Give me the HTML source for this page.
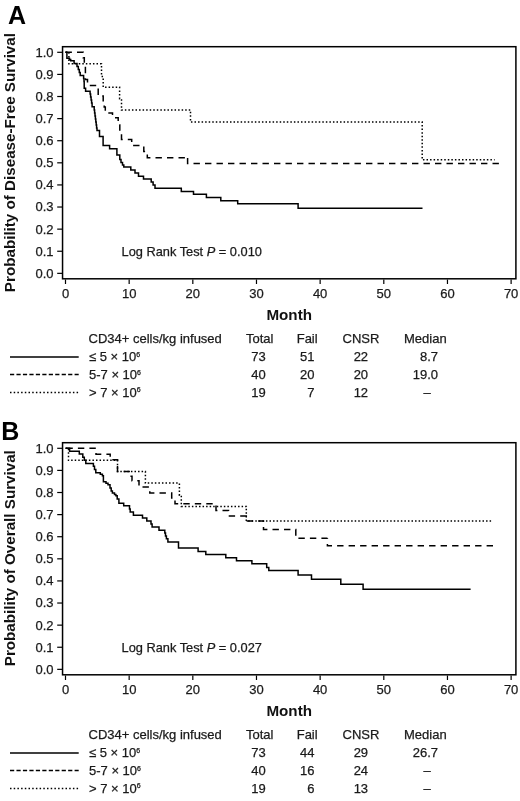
<!DOCTYPE html>
<html><head><meta charset="utf-8"><style>
html,body{margin:0;padding:0;background:#fff;width:520px;height:801px;overflow:hidden}
svg{display:block;will-change:transform}
text{font-family:"Liberation Sans",sans-serif;fill:#1a1a1a}
.t{font-size:13px;stroke:#1a1a1a;stroke-width:0.25px}
.b{font-size:15.2px;font-weight:bold;fill:#111}
.L{font-size:25px;font-weight:bold;fill:#000}
.sup{font-size:7px}
</style></head><body>
<svg width="520" height="801" viewBox="0 0 520 801">
<rect width="520" height="801" fill="#fff"/>
<rect x="62.55" y="46.7" width="453.35" height="232.1" fill="none" stroke="#000" stroke-width="1.5"/>
<line x1="57.2" y1="273.35" x2="62.5" y2="273.35" stroke="#000" stroke-width="1.2"/>
<text x="53.6" y="277.75" text-anchor="end" class="t">0.0</text>
<line x1="57.2" y1="251.25" x2="62.5" y2="251.25" stroke="#000" stroke-width="1.2"/>
<text x="53.6" y="255.65" text-anchor="end" class="t">0.1</text>
<line x1="57.2" y1="229.14" x2="62.5" y2="229.14" stroke="#000" stroke-width="1.2"/>
<text x="53.6" y="233.54" text-anchor="end" class="t">0.2</text>
<line x1="57.2" y1="207.03" x2="62.5" y2="207.03" stroke="#000" stroke-width="1.2"/>
<text x="53.6" y="211.43" text-anchor="end" class="t">0.3</text>
<line x1="57.2" y1="184.93" x2="62.5" y2="184.93" stroke="#000" stroke-width="1.2"/>
<text x="53.6" y="189.33" text-anchor="end" class="t">0.4</text>
<line x1="57.2" y1="162.82" x2="62.5" y2="162.82" stroke="#000" stroke-width="1.2"/>
<text x="53.6" y="167.22" text-anchor="end" class="t">0.5</text>
<line x1="57.2" y1="140.72" x2="62.5" y2="140.72" stroke="#000" stroke-width="1.2"/>
<text x="53.6" y="145.12" text-anchor="end" class="t">0.6</text>
<line x1="57.2" y1="118.62" x2="62.5" y2="118.62" stroke="#000" stroke-width="1.2"/>
<text x="53.6" y="123.02" text-anchor="end" class="t">0.7</text>
<line x1="57.2" y1="96.51" x2="62.5" y2="96.51" stroke="#000" stroke-width="1.2"/>
<text x="53.6" y="100.91" text-anchor="end" class="t">0.8</text>
<line x1="57.2" y1="74.41" x2="62.5" y2="74.41" stroke="#000" stroke-width="1.2"/>
<text x="53.6" y="78.81" text-anchor="end" class="t">0.9</text>
<line x1="57.2" y1="52.30" x2="62.5" y2="52.30" stroke="#000" stroke-width="1.2"/>
<text x="53.6" y="56.70" text-anchor="end" class="t">1.0</text>
<line x1="65.50" y1="279.5" x2="65.50" y2="284" stroke="#000" stroke-width="1.2"/>
<text x="65.50" y="297.6" text-anchor="middle" class="t">0</text>
<line x1="129.16" y1="279.5" x2="129.16" y2="284" stroke="#000" stroke-width="1.2"/>
<text x="129.16" y="297.6" text-anchor="middle" class="t">10</text>
<line x1="192.82" y1="279.5" x2="192.82" y2="284" stroke="#000" stroke-width="1.2"/>
<text x="192.82" y="297.6" text-anchor="middle" class="t">20</text>
<line x1="256.48" y1="279.5" x2="256.48" y2="284" stroke="#000" stroke-width="1.2"/>
<text x="256.48" y="297.6" text-anchor="middle" class="t">30</text>
<line x1="320.14" y1="279.5" x2="320.14" y2="284" stroke="#000" stroke-width="1.2"/>
<text x="320.14" y="297.6" text-anchor="middle" class="t">40</text>
<line x1="383.80" y1="279.5" x2="383.80" y2="284" stroke="#000" stroke-width="1.2"/>
<text x="383.80" y="297.6" text-anchor="middle" class="t">50</text>
<line x1="447.46" y1="279.5" x2="447.46" y2="284" stroke="#000" stroke-width="1.2"/>
<text x="447.46" y="297.6" text-anchor="middle" class="t">60</text>
<line x1="511.12" y1="279.5" x2="511.12" y2="284" stroke="#000" stroke-width="1.2"/>
<text x="511.12" y="297.6" text-anchor="middle" class="t">70</text>
<text x="289.2" y="319.7" text-anchor="middle" class="b">Month</text>
<text transform="translate(14.6,162.6) rotate(-90)" text-anchor="middle" class="b">Probability of Disease-Free Survival</text>
<text x="8" y="24.2" class="L">A</text>
<text x="121.6" y="256" class="t" style="font-size:12.8px">Log Rank Test <tspan font-style="italic">P</tspan> = 0.010</text>
<path d="M65.5,52.2 H66.9 V58.2 H69.5 V59.6 H70.7 V60.8 H74.1 V63.4 H77 V66.5 H78.3 V69.5 H79.3 V72.5 H80.2 V75.6 H83.6 V78.6 H84 V81.6 H84.2 V88.3 H85.6 V91.2 H90.1 V94 H90.6 V97 H91.1 V100 H91.6 V103 H92.1 V106.7 H94.2 V110 H94.6 V113 H95 V116 H95.4 V119 H95.8 V122 H96.2 V125 H96.6 V128 H97 V130.5 H99.5 V136.5 H103.1 V145.5 H109.6 V148.7 H116.9 V155 H119.8 V159.6 H121 V162.5 H122.5 V165 H123.8 V166.9 H130.8 V170 H135 V172.9 H138.5 V176.2 H143.5 V179 H151.2 V182 H153.1 V185 H155 V188.3 H181.3 V191.6 H193.5 V194.2 H206.4 V197.5 H220.8 V200.7 H237.7 V203.8 H298.1 V208.2 H422.5" fill="none" stroke="#000" stroke-width="1.5"/>
<path d="M65.5,52.2 H83.2 V57.7 H84.3 V63.3 H85.4 V79.5 H87.5 V85.4 H98.2 V96 H103.2 V102.5 H104.2 V107 H105.3 V112.9 H112.5 V117.7 H118.2 V125 H119.8 V134 H121.5 V139.4 H131.7 V145.6 H143.8 V151.5 H147.3 V157.7 H187.6" fill="none" stroke="#000" stroke-width="1.5" stroke-dasharray="6.4 5.1" stroke-dashoffset="0"/>
<path d="M187.6,157.7 V163.5 H499" fill="none" stroke="#000" stroke-width="1.5" stroke-dasharray="6.4 5.1" stroke-dashoffset="11.3"/>
<path d="M65.5,52.2 H68.9 V63.8 H101.5 V76.5 H103.2 V87.2 H119.6 V98.8 H121.5 V110 H190.5 V122 H422.2 V159.8 H494.6" fill="none" stroke="#000" stroke-width="1.5" stroke-dasharray="1.5 2.05"/>
<text x="88.5" y="343.3" class="t">CD34+ cells/kg infused</text>
<text x="246" y="343.3" class="t">Total</text>
<text x="296.7" y="343.3" class="t">Fail</text>
<text x="342.5" y="343.3" class="t">CNSR</text>
<text x="404" y="343.3" class="t">Median</text>
<line x1="10" y1="357.1" x2="78.7" y2="357.1" stroke="#000" stroke-width="1.5" />
<text x="89" y="361.2" class="t">&#8804; 5 &#215; 10<tspan dy="-4.3" class="sup">6</tspan></text>
<text x="265.7" y="361.2" text-anchor="end" class="t">73</text>
<text x="314.5" y="361.2" text-anchor="end" class="t">51</text>
<text x="368.1" y="361.2" text-anchor="end" class="t">22</text>
<text x="438" y="361.2" text-anchor="end" class="t">8.7</text>
<line x1="10" y1="374.6" x2="78.7" y2="374.6" stroke="#000" stroke-width="1.5" stroke-dasharray="4.2 2.26"/>
<text x="89" y="378.8" class="t">5-7 &#215; 10<tspan dy="-4.3" class="sup">6</tspan></text>
<text x="265.7" y="378.8" text-anchor="end" class="t">40</text>
<text x="314.5" y="378.8" text-anchor="end" class="t">20</text>
<text x="368.1" y="378.8" text-anchor="end" class="t">20</text>
<text x="438" y="378.8" text-anchor="end" class="t">19.0</text>
<line x1="10" y1="392.5" x2="78.7" y2="392.5" stroke="#000" stroke-width="1.5" stroke-dasharray="1.5 2.2"/>
<text x="89" y="396.5" class="t">&gt; 7 &#215; 10<tspan dy="-4.3" class="sup">6</tspan></text>
<text x="265.7" y="396.5" text-anchor="end" class="t">19</text>
<text x="314.5" y="396.5" text-anchor="end" class="t">7</text>
<text x="368.1" y="396.5" text-anchor="end" class="t">12</text>
<text x="427.2" y="396.5" text-anchor="middle" class="t">&#8211;</text>
<rect x="62.55" y="442.7" width="453.35" height="232.1" fill="none" stroke="#000" stroke-width="1.5"/>
<line x1="57.2" y1="669.35" x2="62.5" y2="669.35" stroke="#000" stroke-width="1.2"/>
<text x="53.6" y="673.75" text-anchor="end" class="t">0.0</text>
<line x1="57.2" y1="647.25" x2="62.5" y2="647.25" stroke="#000" stroke-width="1.2"/>
<text x="53.6" y="651.64" text-anchor="end" class="t">0.1</text>
<line x1="57.2" y1="625.14" x2="62.5" y2="625.14" stroke="#000" stroke-width="1.2"/>
<text x="53.6" y="629.54" text-anchor="end" class="t">0.2</text>
<line x1="57.2" y1="603.03" x2="62.5" y2="603.03" stroke="#000" stroke-width="1.2"/>
<text x="53.6" y="607.43" text-anchor="end" class="t">0.3</text>
<line x1="57.2" y1="580.93" x2="62.5" y2="580.93" stroke="#000" stroke-width="1.2"/>
<text x="53.6" y="585.33" text-anchor="end" class="t">0.4</text>
<line x1="57.2" y1="558.83" x2="62.5" y2="558.83" stroke="#000" stroke-width="1.2"/>
<text x="53.6" y="563.23" text-anchor="end" class="t">0.5</text>
<line x1="57.2" y1="536.72" x2="62.5" y2="536.72" stroke="#000" stroke-width="1.2"/>
<text x="53.6" y="541.12" text-anchor="end" class="t">0.6</text>
<line x1="57.2" y1="514.62" x2="62.5" y2="514.62" stroke="#000" stroke-width="1.2"/>
<text x="53.6" y="519.01" text-anchor="end" class="t">0.7</text>
<line x1="57.2" y1="492.51" x2="62.5" y2="492.51" stroke="#000" stroke-width="1.2"/>
<text x="53.6" y="496.91" text-anchor="end" class="t">0.8</text>
<line x1="57.2" y1="470.40" x2="62.5" y2="470.40" stroke="#000" stroke-width="1.2"/>
<text x="53.6" y="474.80" text-anchor="end" class="t">0.9</text>
<line x1="57.2" y1="448.30" x2="62.5" y2="448.30" stroke="#000" stroke-width="1.2"/>
<text x="53.6" y="452.70" text-anchor="end" class="t">1.0</text>
<line x1="65.50" y1="675.5" x2="65.50" y2="680" stroke="#000" stroke-width="1.2"/>
<text x="65.50" y="693.6" text-anchor="middle" class="t">0</text>
<line x1="129.16" y1="675.5" x2="129.16" y2="680" stroke="#000" stroke-width="1.2"/>
<text x="129.16" y="693.6" text-anchor="middle" class="t">10</text>
<line x1="192.82" y1="675.5" x2="192.82" y2="680" stroke="#000" stroke-width="1.2"/>
<text x="192.82" y="693.6" text-anchor="middle" class="t">20</text>
<line x1="256.48" y1="675.5" x2="256.48" y2="680" stroke="#000" stroke-width="1.2"/>
<text x="256.48" y="693.6" text-anchor="middle" class="t">30</text>
<line x1="320.14" y1="675.5" x2="320.14" y2="680" stroke="#000" stroke-width="1.2"/>
<text x="320.14" y="693.6" text-anchor="middle" class="t">40</text>
<line x1="383.80" y1="675.5" x2="383.80" y2="680" stroke="#000" stroke-width="1.2"/>
<text x="383.80" y="693.6" text-anchor="middle" class="t">50</text>
<line x1="447.46" y1="675.5" x2="447.46" y2="680" stroke="#000" stroke-width="1.2"/>
<text x="447.46" y="693.6" text-anchor="middle" class="t">60</text>
<line x1="511.12" y1="675.5" x2="511.12" y2="680" stroke="#000" stroke-width="1.2"/>
<text x="511.12" y="693.6" text-anchor="middle" class="t">70</text>
<text x="289.2" y="715.7" text-anchor="middle" class="b">Month</text>
<text transform="translate(14.6,558.2) rotate(-90)" text-anchor="middle" class="b">Probability of Overall Survival</text>
<text x="1.3" y="440" class="L">B</text>
<text x="121.6" y="652" class="t" style="font-size:12.8px">Log Rank Test <tspan font-style="italic">P</tspan> = 0.027</text>
<path d="M65.5,448.2 H69.6 V451.2 H79.3 V454.1 H82.8 V457.2 H84.3 V460.3 H85.8 V463.4 H93.4 V466.3 H94.5 V469.5 H95.8 V472.7 H100.3 V474.2 H102.4 V475.8 H103.4 V481.8 H106 V483.3 H108 V484.8 H110 V487.9 H111.2 V490.9 H112.4 V493 H114.5 V494.5 H115.9 V495.7 H117.2 V499 H118.9 V503.2 H123.7 V505.8 H129.5 V509 H130.2 V511.9 H133.4 V515.3 H142.5 V517.9 H146.8 V521 H151 V524 H152.1 V527 H159 V530.2 H164.8 V533 H165.5 V536 H166.4 V538.7 H167.9 V542 H178.5 V547.9 H198.1 V551.5 H205.8 V554.6 H225.8 V557.7 H236.5 V560.8 H251.9 V563.8 H266.7 V567.5 H268.8 V570.6 H298.1 V574.9 H311.5 V579.3 H340.8 V584.2 H363.1 V589.3 H470.6" fill="none" stroke="#000" stroke-width="1.5"/>
<path d="M65.5,448.2 H96 V454.2 H110.2 V459.8 H117.5 V471.5 H129.2 V476.2 H132 V480.8 H139 V487.1 H149.8 V493.1 H171.7 V498 H175 V503.8 H216 V510.6 H228.5 V515.9 H246.3 V521 H263.5 V529.6 H295.8 V538.2 H327.4" fill="none" stroke="#000" stroke-width="1.5" stroke-dasharray="6.4 5.1" stroke-dashoffset="-0.9"/>
<path d="M327.4,538.2 V545.8 H496.9" fill="none" stroke="#000" stroke-width="1.5" stroke-dasharray="6.4 5.1" stroke-dashoffset="5.7"/>
<path d="M65.5,448.2 H68.5 V460.3 H117.5 V471.5 H145.4 V483.1 H179.4 V495.2 H181.3 V506.4 H246.3 V521.1 H492.3" fill="none" stroke="#000" stroke-width="1.5" stroke-dasharray="1.5 2.05"/>
<text x="88.5" y="739.3" class="t">CD34+ cells/kg infused</text>
<text x="246" y="739.3" class="t">Total</text>
<text x="296.7" y="739.3" class="t">Fail</text>
<text x="342.5" y="739.3" class="t">CNSR</text>
<text x="404" y="739.3" class="t">Median</text>
<line x1="10" y1="753.1" x2="78.7" y2="753.1" stroke="#000" stroke-width="1.5" />
<text x="89" y="757.2" class="t">&#8804; 5 &#215; 10<tspan dy="-4.3" class="sup">6</tspan></text>
<text x="265.7" y="757.2" text-anchor="end" class="t">73</text>
<text x="314.5" y="757.2" text-anchor="end" class="t">44</text>
<text x="368.1" y="757.2" text-anchor="end" class="t">29</text>
<text x="438" y="757.2" text-anchor="end" class="t">26.7</text>
<line x1="10" y1="770.6" x2="78.7" y2="770.6" stroke="#000" stroke-width="1.5" stroke-dasharray="4.2 2.26"/>
<text x="89" y="774.8" class="t">5-7 &#215; 10<tspan dy="-4.3" class="sup">6</tspan></text>
<text x="265.7" y="774.8" text-anchor="end" class="t">40</text>
<text x="314.5" y="774.8" text-anchor="end" class="t">16</text>
<text x="368.1" y="774.8" text-anchor="end" class="t">24</text>
<text x="427.2" y="774.8" text-anchor="middle" class="t">&#8211;</text>
<line x1="10" y1="788.5" x2="78.7" y2="788.5" stroke="#000" stroke-width="1.5" stroke-dasharray="1.5 2.2"/>
<text x="89" y="792.5" class="t">&gt; 7 &#215; 10<tspan dy="-4.3" class="sup">6</tspan></text>
<text x="265.7" y="792.5" text-anchor="end" class="t">19</text>
<text x="314.5" y="792.5" text-anchor="end" class="t">6</text>
<text x="368.1" y="792.5" text-anchor="end" class="t">13</text>
<text x="427.2" y="792.5" text-anchor="middle" class="t">&#8211;</text>
</svg>
</body></html>
